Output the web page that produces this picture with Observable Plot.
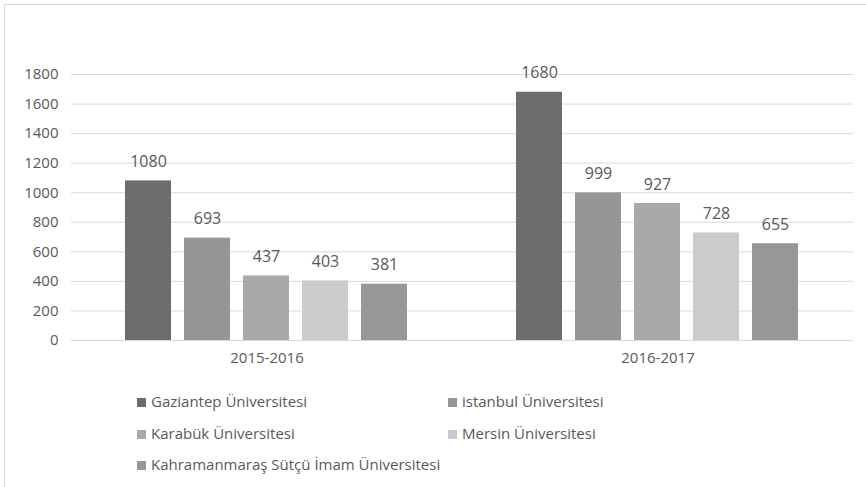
<!DOCTYPE html>
<html>
<head>
<meta charset="utf-8">
<script src="https://cdn.jsdelivr.net/npm/d3@7"></script>
<script src="https://cdn.jsdelivr.net/npm/@observablehq/plot@0.6"></script>
<style>
  html, body { margin: 0; padding: 0; background: #fff; }
  #wrap { position: relative; width: 866px; height: 487px; overflow: hidden; font-family: "Open Sans", sans-serif; }
  #frame { position: absolute; left: 4px; top: 4px; right: -2px; bottom: -2px; border-top: 1px solid #d9d9d9; border-left: 1px solid #d9d9d9; }
  #chart { position: absolute; left: 0; top: 0; }
  .leg { position: absolute; font-size: 15px; color: #595959; white-space: nowrap; line-height: 18px; }
  .leg span.sw { display: inline-block; width: 9px; height: 9px; margin-right: 5px; vertical-align: 0px; }
</style>
</head>
<body>
<div id="wrap">
  <div id="frame"></div>
  <div id="chart"></div>
  <div id="legend"></div>
</div>
<script>
const periods = ["2015-2016", "2016-2017"];
const universities = [
  "Gaziantep Üniversitesi",
  "istanbul Üniversitesi",
  "Karabük Üniversitesi",
  "Mersin Üniversitesi",
  "Kahramanmaraş Sütçü İmam Üniversitesi"
];
const values2015 = [1080, 693, 437, 403, 381];
const values2016 = [1680, 999, 927, 728, 655];
const yTicks = [0, 200, 400, 600, 800, 1000, 1200, 1400, 1600, 1800];
const colors = ["#6d6d6d", "#969696", "#a9a9a9", "#cbcbcb", "#979797"];

const seriesByPeriod = [values2015, values2016];
const data = [];
periods.forEach((p, i) => universities.forEach((u, j) => data.push({period: p, uni: u, value: seriesByPeriod[i][j]})));

const chart = Plot.plot({
  width: 866,
  height: 380,
  marginLeft: 70,
  marginRight: 13,
  marginTop: 74,
  marginBottom: 40,
  style: {fontFamily: "Open Sans, sans-serif", fontSize: "15px", color: "#595959", background: "transparent", overflow: "visible"},
  fx: {domain: periods, padding: 0, label: null, axis: "bottom", tickSize: 0, tickPadding: 12},
  x: {domain: universities, paddingInner: 0.2167, paddingOuter: 0.867, axis: null},
  y: {domain: [0, 1800], label: null, axis: null},
  color: {domain: universities, range: colors},
  marks: [
    Plot.gridY(yTicks, {stroke: "#d9d9d9", strokeOpacity: 1, strokeWidth: 1}),
    Plot.axisY(yTicks, {tickSize: 0, tickPadding: 13, label: null, facetAnchor: "left", fill: "#595959", fontSize: 15, tickFormat: d => String(d)}),
    Plot.barY(data, {fx: "period", x: "uni", y: "value", fill: "uni"}),
    Plot.text(data, {fx: "period", x: "uni", y: "value", text: d => String(d.value), dy: -19, fill: "#595959", fontSize: 16})
  ]
});
document.getElementById("chart").appendChild(chart);

const legendPos = [
  {left: 137, top: 401}, {left: 448, top: 401},
  {left: 137, top: 433}, {left: 448, top: 433},
  {left: 137, top: 464}
];
const legend = document.getElementById("legend");
universities.forEach((u, i) => {
  const d = document.createElement("div");
  d.className = "leg";
  d.style.left = legendPos[i].left + "px";
  d.style.top = (legendPos[i].top - 9) + "px";
  const sw = document.createElement("span");
  sw.className = "sw";
  sw.style.background = colors[i];
  d.appendChild(sw);
  d.appendChild(document.createTextNode(u));
  legend.appendChild(d);
});
</script>
</body>
</html>
